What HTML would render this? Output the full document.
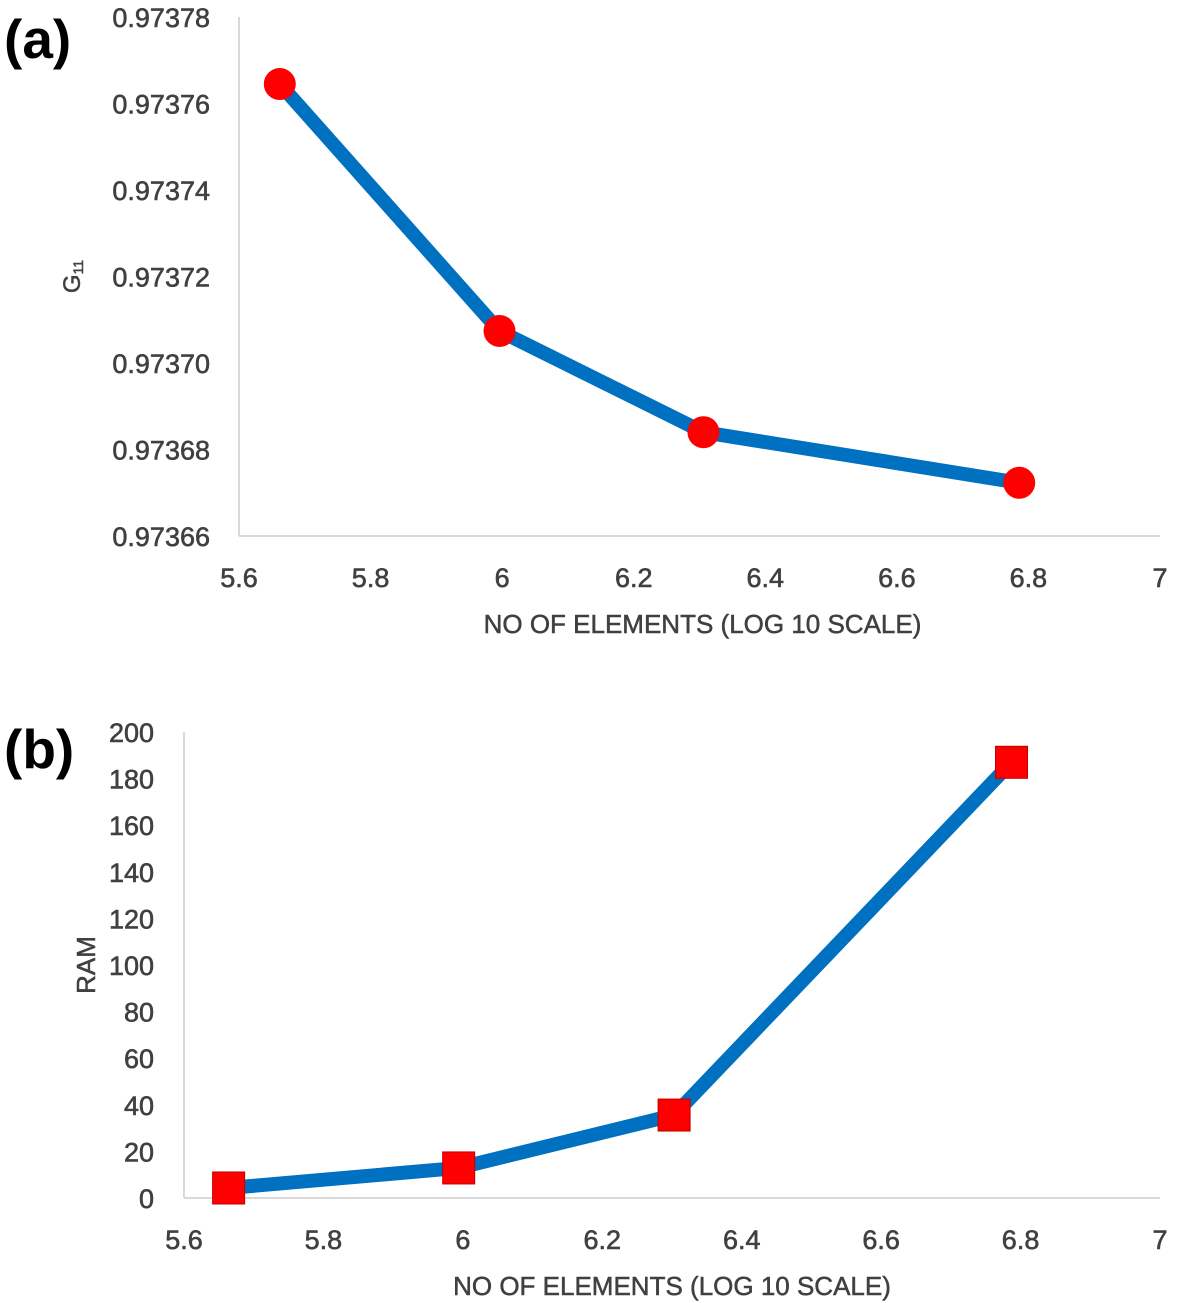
<!DOCTYPE html>
<html><head><meta charset="utf-8"><style>
body{margin:0;background:#fff;}
svg{display:block;font-family:"Liberation Sans",sans-serif;}
</style></head><body>
<svg id="s" width="1181" height="1303">
<text x="4" y="58" font-size="55" font-weight="bold" fill="#000">(a)</text>
<text x="4" y="768" font-size="55" font-weight="bold" fill="#000">(b)</text>
<g id="ga"></g>
<g id="gb"></g>
</svg>
<script>
const xA=[5.662,5.996,6.306,6.786];
const yA=[0.9737645,0.9737074,0.973684,0.9736723];
const yTicksA=[0.97366,0.97368,0.9737,0.97372,0.97374,0.97376,0.97378];
const xB=[5.664,5.994,6.303,6.787];
const yB=[4.3,12.9,35.6,187];
const yTicksB=[0,20,40,60,80,100,120,140,160,180,200];
const xTicks=[5.6,5.8,6,6.2,6.4,6.6,6.8,7];
const NS="http://www.w3.org/2000/svg";
function mk(p,t,a){const e=document.createElementNS(NS,t);for(const k in a)e.setAttribute(k,a[k]);p.appendChild(e);return e;}
function chart(g,cfg){
  const sx=v=>cfg.x0+(v-5.6)/1.4*(cfg.x1-cfg.x0);
  const sy=v=>cfg.y0-(v-cfg.ymin)/(cfg.ymax-cfg.ymin)*(cfg.y0-cfg.y1);
  let e=mk(g,'line',{x1:cfg.x0,y1:cfg.y1,x2:cfg.x0,y2:cfg.y0,stroke:'#d9d9d9','stroke-width':2});
  
  e=mk(g,'line',{x1:cfg.x0,y1:cfg.y0,x2:cfg.x1,y2:cfg.y0,stroke:'#d9d9d9','stroke-width':2});
  
  cfg.yt.forEach(v=>{const t=mk(g,'text',{x:cfg.x0-cfg.yoff,y:sy(v)+10,'font-size':27,fill:'#404040','text-anchor':'end',stroke:'#404040','stroke-width':0.6});
    t.textContent=cfg.fmt(v);
    
    });
  xTicks.forEach(v=>{const t=mk(g,'text',{x:sx(v),y:cfg.y0+51,'font-size':27,fill:'#404040','text-anchor':'middle',stroke:'#404040','stroke-width':0.6});
    t.textContent=String(v);
    
    });
  let t=mk(g,'text',{x:(cfg.x0+cfg.x1)/2+(cfg.xtOff||0),y:cfg.y0+97,'font-size':26,fill:'#404040','text-anchor':'middle',stroke:'#404040','stroke-width':0.5});
  t.textContent='NO OF ELEMENTS (LOG 10 SCALE)';
  
  t=mk(g,'text',{transform:`translate(${cfg.ytx},${(cfg.y0+cfg.y1)/2}) rotate(-90)`,'font-size':cfg.ytfs,fill:'#404040','text-anchor':'middle',stroke:'#404040','stroke-width':0.5});
  t.innerHTML=cfg.ytitle;
  
  const pts=cfg.xs.map((v,i)=>sx(v)+','+sy(cfg.ys[i])).join(' ');
  const pl=mk(g,'polyline',{points:pts,fill:'none',stroke:'#0070c0','stroke-width':14,'stroke-linejoin':'round'});
  
  cfg.xs.forEach((v,i)=>{let m;
    if(cfg.marker==='circle')m=mk(g,'circle',{cx:sx(v),cy:sy(cfg.ys[i]),r:16,fill:'#ff0000'});
    else m=mk(g,'rect',{x:sx(v)-16,y:sy(cfg.ys[i])-16,width:32,height:32,fill:'#ff0000',stroke:'#c00000','stroke-width':1});
    
    });
}
chart(document.getElementById('ga'),{x0:239,x1:1160,y0:536,y1:17,ymin:0.97366,ymax:0.97378,yt:yTicksA,fmt:v=>v.toFixed(5),xs:xA,ys:yA,marker:'circle',ytitle:'G<tspan font-size="14" dy="3">11</tspan>',ytx:80,ytfs:24,xtOff:3,yoff:29});
chart(document.getElementById('gb'),{x0:184,x1:1160,y0:1198,y1:732,ymin:0,ymax:200,yt:yTicksB,fmt:v=>String(v),xs:xB,ys:yB,marker:'square',ytitle:'RAM',ytx:95,ytfs:26,xtOff:0,yoff:30});
</script>
</body></html>
